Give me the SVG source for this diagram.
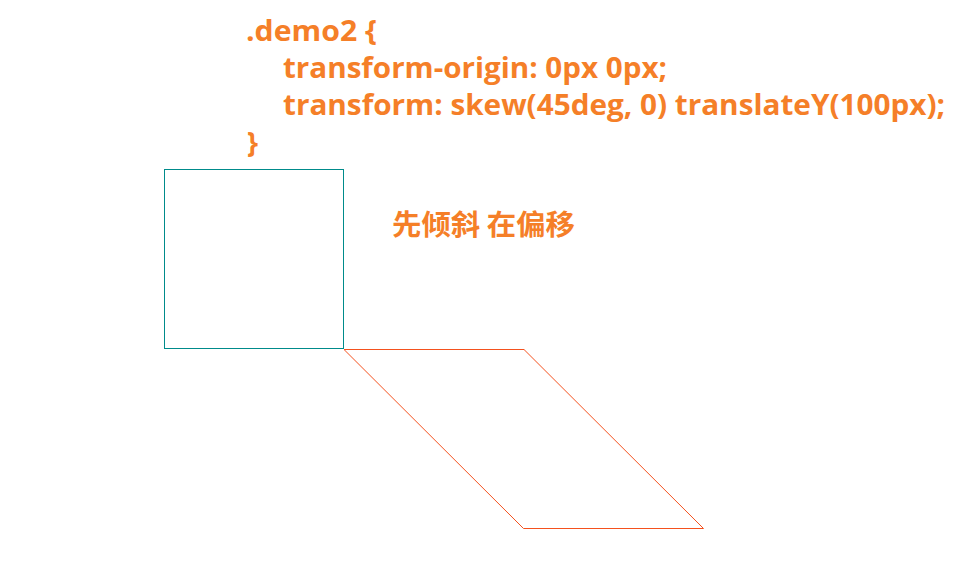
<svg xmlns="http://www.w3.org/2000/svg" width="966" height="576" viewBox="0 0 966 576">
<style>
.code{font-family:"Open Sans","Noto Sans","Noto Sans CJK SC",sans-serif;font-weight:bold;font-size:28px;fill:#f57f28}
.cn{font-family:"Noto Sans CJK SC",sans-serif;font-weight:bold;font-size:28.5px;fill:#f57f28}
</style>
<rect width="966" height="576" fill="#ffffff"/>
<g id="code">
<text class="code" x="246" y="41" textLength="131" lengthAdjust="spacingAndGlyphs">.demo2 {</text>
<text class="code" x="283" y="78" textLength="384" lengthAdjust="spacingAndGlyphs">transform-origin: 0px 0px;</text>
<text class="code" x="283" y="115" textLength="662" lengthAdjust="spacingAndGlyphs">transform: skew(45deg, 0) translateY(100px);</text>
<text class="code" x="247" y="153">}</text>
</g>
<g id="label">
<text class="cn" x="392" y="235" textLength="183" lengthAdjust="spacingAndGlyphs">先倾斜 在偏移</text>
</g>
<g id="original">
<rect x="164.5" y="169.5" width="179" height="179" fill="none" stroke="#008b8b" stroke-width="1"/>
</g>
<g id="skewed">
<polygon points="344,349.5 524,349.5 703.5,528.5 523.5,528.5" fill="none" stroke="#f4511e" stroke-width="1"/>
</g>
<g id="connectors"></g>
</svg>
